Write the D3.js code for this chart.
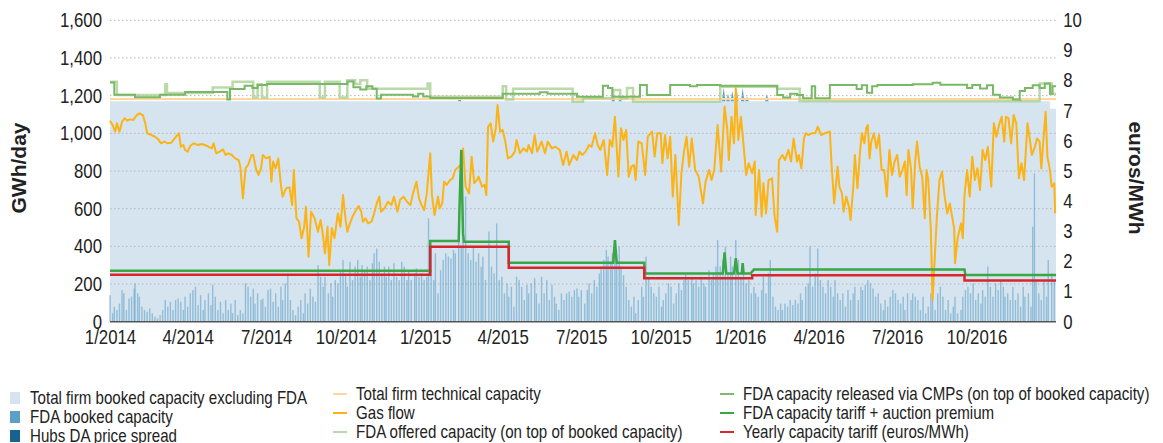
<!DOCTYPE html>
<html lang="en">
  <head>
    <meta charset="UTF-8" />
    <title>FDA capacity, gas flow and tariffs 2014-2016</title>
    <script src="https://d3js.org/d3.v7.min.js"></script>
    <style>
      body {
        margin: 0;
        background: #fff;
      }
      svg {
        display: block;
        font-family: "Liberation Sans", Arial, sans-serif;
      }
      .tick text {
        font-size: 20px;
        fill: #222;
      }
      .grid line {
        stroke: #b4b4b4;
        stroke-dasharray: 1.5, 2.5;
      }
      .legend text {
        font-size: 18px;
        fill: #222;
      }
    </style>
  </head>
  <body>
    <svg width="1163" height="443"></svg>
    <script>
      // days are counted from 1 Jan 2014
      const xTickLabels = ["1/2014", "4/2014", "7/2014", "10/2014", "1/2015", "4/2015",
        "7/2015", "10/2015", "1/2016", "4/2016", "7/2016", "10/2016"];
      const leftTicks = [0, 200, 400, 600, 800, 1000, 1200, 1400, 1600];
      const rightTicks = [0, 1, 2, 3, 4, 5, 6, 7, 8, 9, 10];

      // GWh/day
      const bookedExclFda = [[0, 1170], [1088, 1170], [1089, 1130], [1096, 1130]];
      const technicalCapacity = [[0, 1182], [1096, 1182]];
      const fdaBooked = [[405, 20], [583, 20], [591, 15], [711, 75], [716, 40], [721, 55],
        [726, 65], [733, 70], [738, 25], [761, 40], [1055, 20]];

      const fdaOffered = [[0, 1274], [8, 1203], [64, 1260], [66, 1214], [119, 1243], [142, 1274],
        [166, 1190], [171, 1260], [176, 1190], [182, 1274], [243, 1190], [249, 1274], [266, 1190],
        [275, 1282], [284, 1262], [290, 1282], [298, 1237], [368, 1265], [371, 1194], [455, 1250],
        [459, 1180], [467, 1237], [536, 1168], [548, 1186], [583, 1230], [591, 1186], [599, 1240],
        [606, 1168], [707, 1247], [773, 1237], [799, 1170], [1077, 1265], [1091, 1210], [1096, 1210]];

      const fdaCmp = [[0, 1270], [5, 1205], [29, 1192], [58, 1205], [87, 1220], [136, 1180],
        [139, 1235], [156, 1252], [165, 1240], [171, 1257], [182, 1262], [275, 1275], [282, 1245],
        [290, 1232], [297, 1250], [304, 1236], [309, 1185], [314, 1205], [351, 1195], [357, 1210],
        [363, 1195], [371, 1187], [455, 1210], [498, 1218], [507, 1210], [541, 1194], [571, 1253],
        [577, 1240], [582, 1194], [614, 1256], [622, 1203], [649, 1256], [672, 1250], [680, 1256],
        [707, 1252], [773, 1203], [780, 1190], [788, 1210], [796, 1203], [803, 1186], [813, 1250],
        [817, 1186], [834, 1257], [865, 1235], [871, 1255], [877, 1215], [883, 1250], [889, 1257],
        [930, 1260], [953, 1268], [962, 1258], [993, 1240], [999, 1257], [1008, 1238], [1016, 1255],
        [1023, 1205], [1031, 1190], [1046, 1180], [1054, 1225], [1060, 1240], [1069, 1255],
        [1077, 1240], [1083, 1265], [1089, 1210], [1092, 1250], [1096, 1250]];

      const gasFlow = [[0, 1067], [3, 1044], [6, 1009], [8, 1053], [11, 1009], [14, 1062], [17, 1080],
        [20, 1067], [23, 1074], [27, 1071], [31, 1097], [34, 1106], [38, 1097], [41, 1053], [43, 1000],
        [48, 991], [52, 982], [56, 968], [59, 947], [63, 956], [67, 947], [71, 950], [75, 973], [78, 991],
        [80, 1000], [82, 929], [85, 938], [87, 912], [90, 903], [93, 933], [97, 947], [102, 938],
        [106, 943], [110, 938], [114, 929], [118, 920], [120, 947], [123, 894], [127, 903], [131, 915],
        [134, 885], [137, 894], [141, 885], [145, 867], [149, 858], [151, 823], [154, 655], [157, 814],
        [160, 832], [164, 885], [166, 885], [169, 814], [172, 779], [175, 814], [177, 885], [181, 867],
        [185, 876], [187, 743], [189, 850], [192, 814], [195, 867], [198, 726], [200, 664], [204, 708],
        [208, 713], [211, 619], [213, 805], [216, 549], [219, 531], [222, 443], [225, 504], [227, 610],
        [230, 345], [233, 584], [237, 549], [241, 478], [244, 540], [247, 451], [249, 363], [252, 504],
        [254, 301], [257, 496], [260, 443], [264, 575], [267, 504], [270, 672], [273, 540],
        [275, 478], [278, 522], [281, 558], [284, 584], [288, 614], [291, 584], [293, 531], [296, 549],
        [299, 522], [303, 531], [306, 575], [309, 628], [312, 664], [314, 584], [318, 602], [322, 637],
        [326, 619], [329, 664], [333, 584], [336, 646], [340, 664], [344, 637], [348, 619], [351, 681],
        [355, 743], [358, 655], [361, 619], [364, 593], [367, 681], [371, 894], [373, 672], [376, 566],
        [380, 664], [382, 602], [385, 628], [387, 743], [390, 726], [394, 752], [397, 761], [400, 805],
        [404, 823], [407, 832], [409, 920], [412, 717], [416, 681], [419, 876], [422, 735], [425, 752],
        [427, 770], [431, 717], [434, 726], [436, 672], [438, 1035], [441, 1053], [444, 956], [447, 1027],
        [449, 1150], [452, 1009], [455, 1018], [458, 956], [461, 867], [465, 876], [469, 903], [471, 965],
        [475, 894], [479, 920], [483, 903], [485, 938], [489, 894], [492, 991], [495, 903], [500, 956],
        [504, 894], [507, 956], [512, 920], [516, 929], [521, 912], [525, 832], [529, 903], [532, 832],
        [537, 885], [541, 858], [544, 903],
        [547, 885], [551, 903], [555, 938], [558, 929], [562, 1000], [565, 938], [568, 912], [572, 965],
        [576, 779], [579, 965], [582, 929], [585, 1088], [589, 770], [592, 1027], [595, 965], [598, 1018],
        [601, 770], [604, 823], [607, 832], [609, 752], [612, 956], [616, 947], [620, 779], [623, 982],
        [628, 1009], [631, 876], [634, 1000], [638, 1000], [640, 841], [643, 991], [646, 867], [649, 982],
        [652, 664], [655, 885], [659, 513], [662, 788], [665, 903], [668, 982], [671, 823], [674, 973],
        [678, 805], [682, 770], [687, 628], [690, 743], [694, 805], [697, 752], [700, 805], [704, 1044],
        [708, 797], [712, 1142], [715, 1027], [717, 858], [720, 1088], [723, 947], [725, 1240], [728, 965],
        [731, 1088], [734, 938], [737, 779], [740, 841], [744, 788], [747, 850], [748, 566], [752, 805],
        [755, 558], [757, 735], [760, 575], [763, 752], [767, 761], [770, 558], [773, 478], [775, 858],
        [779, 885], [782, 858], [786, 912], [789, 850], [792, 973], [796, 850], [798, 885], [801, 814],
        [804, 973], [806, 1000], [809, 991], [813, 1000], [817, 1000], [820, 1035],
        [824, 991], [828, 1000], [834, 1009], [836, 832], [838, 699], [839, 628], [843, 823], [845, 717],
        [848, 681], [850, 584], [853, 664], [856, 611], [858, 540], [861, 708], [863, 885], [866, 708],
        [869, 903], [871, 1000], [874, 947], [876, 1027], [878, 1044], [880, 867], [882, 956], [885, 1000],
        [888, 920], [891, 991], [894, 805], [897, 805], [900, 664], [903, 912], [906, 779], [909, 850],
        [912, 885], [915, 770], [918, 805], [921, 850], [923, 672], [925, 912], [928, 814], [930, 602],
        [933, 858], [935, 956], [938, 823], [941, 770], [944, 549], [946, 805], [948, 752], [951, 487],
        [953, 115], [955, 292], [958, 558], [961, 752], [964, 797], [967, 664], [970, 575], [973, 628],
        [975, 575], [978, 496], [979, 310], [982, 443], [986, 522], [988, 443], [990, 672], [993, 805],
        [996, 664], [999, 876], [1002, 752], [1005, 814], [1008, 699], [1011, 912], [1014, 858],
        [1017, 929], [1021, 717], [1024, 1053], [1027, 982], [1030, 1044], [1033, 1088], [1036, 956],
        [1038, 1088], [1041, 1080], [1044, 947], [1047, 1097], [1050, 1053], [1053, 761], [1056, 841],
        [1059, 752], [1063, 1053], [1065, 991], [1068, 885], [1071, 920], [1074, 973], [1077, 956],
        [1079, 814], [1082, 1000], [1084, 1115], [1086, 876], [1089, 805], [1091, 717], [1094, 735],
        [1095, 575]];

      // euros/MWh
      const fdaTariffPremium = [[0, 1.69], [371, 1.69], [371, 2.68], [404, 2.68], [405, 3.87], [407, 5.70],
        [409, 2.93], [410, 2.65], [462, 2.65], [462, 1.96], [583, 1.96], [585, 2.71], [587, 1.96],
        [619, 1.96], [619, 1.6], [710, 1.6], [712, 2.3], [714, 1.6], [723, 1.6], [725, 2.11], [727, 1.6],
        [732, 1.6], [733, 1.94], [734, 1.6], [742, 1.6], [746, 1.73], [990, 1.73], [991, 1.55],
        [1096, 1.55]];
      const yearlyTariff = [[0, 1.56], [371, 2.49], [462, 1.79], [619, 1.44], [744, 1.54],
        [990, 1.37], [1096, 1.37]];

      const priceSpread = [[0, 0.88], [3, 0.28], [5, 0.5], [8, 0.39], [11, 0.6], [14, 1.05], [16, 0.94],
        [19, 0.39], [22, 0.77], [25, 0.83], [28, 1.1], [29, 1.27], [32, 0.94], [34, 0.83], [37, 0.5],
        [40, 0.39], [43, 0.33], [46, 0.44], [49, 0.28], [52, 0.17], [55, 0.11], [58, 0.22], [61, 0.39],
        [64, 0.72], [67, 0.5], [70, 0.66], [73, 0.39], [76, 0.72], [79, 0.77], [82, 0.66], [85, 0.39],
        [87, 0.83], [90, 0.5], [93, 0.94], [96, 1.05], [99, 1.16], [102, 0.55], [105, 0.88], [108, 0.39],
        [110, 0.72], [114, 0.94], [117, 0.55], [119, 1.22], [122, 0.83], [125, 0.39], [128, 0.66],
        [131, 0.28], [134, 0.72], [137, 0.39], [140, 0.6], [142, 0.28], [145, 0.72], [148, 0.22],
        [151, 0.39], [154, 0.28], [157, 1.27], [160, 1.16], [163, 0.83], [166, 1.1], [168, 0.6],
        [171, 0.94], [175, 0.72], [177, 0.77], [180, 0.5], [183, 1.05], [186, 1.1], [189, 0.66],
        [192, 0.94], [195, 0.5], [198, 1.16], [200, 0.72], [203, 1.27], [206, 1.6], [209, 0.72],
        [212, 0.39], [215, 0.22], [218, 0.5], [221, 0.72], [224, 0.28], [226, 0.94], [229, 0.6],
        [232, 1.1], [235, 0.83], [238, 0.66], [241, 1.88], [244, 1.49], [247, 1.16], [249, 1.49],
        [253, 0.94], [256, 1.27], [258, 0.83], [261, 1.38], [264, 1.27], [267, 1.71], [270, 2.05],
        [273, 1.6], [275, 1.16], [278, 1.99], [281, 1.38], [284, 1.83], [287, 2.05], [290, 1.49],
        [292, 1.88], [295, 1.71], [298, 1.83], [301, 1.38], [304, 1.94], [306, 2.27], [309, 2.43],
        [312, 1.99], [315, 1.6], [318, 1.83], [320, 1.49], [323, 1.83], [326, 1.38], [329, 1.94],
        [332, 1.49], [335, 1.38], [338, 1.99], [341, 1.83], [344, 1.38], [346, 1.71], [349, 1.38],
        [353, 1.6], [355, 1.77], [358, 1.49], [361, 1.6], [364, 1.38], [367, 1.49], [369, 3.43],
        [372, 1.71], [375, 1.38], [377, 2.27], [380, 0.94], [383, 1.71], [386, 2.05], [389, 2.27],
        [392, 2.16], [395, 2.1], [398, 2.38], [400, 2.27], [404, 2.71], [407, 2.49], [409, 2.93],
        [412, 4.15], [415, 2.27], [418, 2.05], [421, 2.49], [424, 1.99], [427, 2.27], [430, 1.83],
        [432, 2.16], [435, 1.38], [439, 2.99], [442, 1.83], [445, 1.6], [448, 3.26], [451, 1.38],
        [454, 1.49], [457, 0.94], [460, 1.27], [462, 0.83], [465, 1.16], [468, 0.5], [471, 1.49],
        [474, 1.38], [477, 1.16], [480, 0.72], [483, 1.22], [485, 0.94], [488, 1.27], [492, 1.44],
        [494, 0.94], [497, 0.6], [500, 1.49], [503, 0.94], [506, 1.38], [509, 0.72], [512, 1.22],
        [515, 0.83], [517, 0.6], [520, 0.39], [523, 0.94], [526, 0.72], [529, 0.94], [532, 1.0],
        [535, 0.83], [538, 1.05], [541, 1.1], [543, 0.83], [546, 1.05],
        [550, 0.6], [553, 1.05], [555, 1.27], [558, 0.94], [561, 1.38], [564, 1.16], [567, 1.6],
        [569, 1.83], [572, 2.05], [575, 2.38], [577, 2.16], [580, 1.99], [582, 2.27], [585, 2.49],
        [587, 2.05], [590, 2.49], [592, 1.83], [595, 1.55], [598, 1.16], [601, 0.72], [604, 0.5],
        [607, 0.83], [609, 0.28], [612, 0.72], [616, 1.16], [618, 0.83], [621, 2.16], [624, 1.49],
        [627, 1.16], [630, 0.94], [633, 0.83], [636, 1.16], [639, 0.5], [641, 0.72], [644, 0.94],
        [647, 1.27], [650, 1.16], [653, 0.6], [656, 0.94], [659, 1.27], [662, 1.05], [665, 1.38],
        [667, 1.55], [670, 1.38], [674, 1.49], [676, 1.27], [679, 1.38], [682, 1.16], [685, 1.49],
        [688, 1.27], [690, 1.16], [694, 1.71], [697, 1.38], [699, 1.6], [702, 1.83], [704, 2.71],
        [707, 1.83], [710, 2.05], [713, 2.49], [716, 1.6], [719, 2.16], [721, 1.83], [725, 2.71],
        [728, 2.05], [731, 1.49], [734, 1.71], [737, 1.27], [740, 1.38], [743, 0.94], [746, 1.16],
        [748, 0.94], [751, 0.83], [755, 1.05], [757, 1.49], [760, 0.94], [763, 1.6], [765, 2.05],
        [768, 0.83], [771, 0.5], [774, 0.39], [777, 0.6], [779, 0.39], [782, 0.6], [785, 0.5],
        [788, 0.72], [791, 0.55], [794, 0.72], [797, 0.6], [800, 0.94], [802, 0.72], [806, 1.16],
        [809, 1.27], [811, 2.49], [814, 1.16], [817, 1.6], [820, 2.43], [823, 1.38], [826, 1.16],
        [829, 0.94], [832, 1.38], [835, 1.16], [838, 0.83], [840, 1.38], [843, 0.94], [846, 0.72],
        [849, 0.94], [852, 0.5], [855, 1.05], [858, 0.72], [861, 0.94], [863, 1.16], [867, 0.72],
        [870, 1.16], [872, 1.05], [875, 1.22], [878, 1.38], [881, 1.27], [884, 1.1], [887, 0.83],
        [890, 0.94], [893, 0.6], [896, 0.39], [898, 0.72], [901, 0.5], [904, 0.83], [907, 1.05],
        [910, 0.94], [913, 0.72], [916, 0.6], [919, 0.83], [921, 0.39], [924, 0.94], [928, 0.72],
        [930, 0.94], [933, 0.83], [936, 0.72], [939, 0.39], [942, 0.83], [945, 0.28], [948, 0.5],
        [951, 0.94], [953, 0.72], [956, 0.39], [959, 0.94], [962, 1.16], [965, 0.83], [968, 0.39],
        [971, 0.72], [974, 0.28], [977, 0.5], [979, 0.83], [982, 0.28], [986, 0.39], [988, 0.83],
        [991, 1.05], [994, 1.16], [997, 0.94], [1000, 1.27], [1003, 0.72], [1006, 0.94], [1009, 0.6],
        [1011, 1.05], [1014, 0.83], [1017, 1.83], [1020, 1.16], [1023, 0.83], [1026, 1.27],
        [1029, 1.05], [1032, 1.38], [1035, 1.16], [1037, 0.83], [1040, 0.94], [1043, 0.72],
        [1046, 1.16], [1049, 0.72], [1052, 0.94], [1055, 0.5], [1058, 1.16], [1060, 0.83],
        [1064, 0.94], [1067, 0.5], [1069, 3.15], [1071, 4.92], [1073, 1.38], [1076, 0.94],
        [1079, 0.72], [1082, 1.38], [1085, 0.83], [1087, 2.05], [1091, 1.6], [1094, 1.38]];

      const legendCol1 = [
        { label: "Total firm booked capacity excluding FDA", color: "#d6e4ef" },
        { label: "FDA booked capacity", color: "#5d9fc6" },
        { label: "Hubs DA price spread", color: "#17628f" },
      ];
      const legendCol2 = [
        { label: "Total firm technical capacity", color: "#fdd79c" },
        { label: "Gas flow", color: "#fbb316" },
        { label: "FDA offered capacity (on top of booked capacity)", color: "#b9daa6" },
      ];
      const legendCol3 = [
        { label: "FDA capacity released via CMPs (on top of booked capacity)", color: "#7fbb6d" },
        { label: "FDA capacity tariff + auction premium", color: "#3aa645" },
        { label: "Yearly capacity tariff (euros/MWh)", color: "#d7262c" },
      ];

      const start = new Date(2014, 0, 1);
      const toDate = (d) => d3.timeDay.offset(start, d);
      const parseTick = d3.timeParse("%m/%Y");

      // the original uses a condensed face; squeeze the installed sans instead
      const narrow = "scale(0.84,1)";

      const plotLeft = 110,
        plotRight = 1056,
        plotTop = 20.3,
        plotBottom = 321.7;

      const svg = d3.select("svg");

      const x = d3
        .scaleTime()
        .domain([start, new Date(2017, 0, 1)])
        .range([plotLeft, plotRight]);
      const y = d3.scaleLinear().domain([0, 1600]).range([plotBottom, plotTop]);
      const y2 = d3.scaleLinear().domain([0, 10]).range([plotBottom, plotTop]);

      // booked capacity area
      svg
        .append("path")
        .datum(bookedExclFda)
        .attr("fill", "#d6e4ef")
        .attr(
          "d",
          d3
            .area()
            .curve(d3.curveStepAfter)
            .x((d) => x(toDate(d[0])))
            .y0(y(0))
            .y1((d) => y(d[1]))
        );

      // FDA booked capacity sitting on top of the booked area
      const spikes = svg.append("g").attr("fill", "#5d9fc6");
      fdaBooked.forEach((d) => {
        spikes
          .append("path")
          .datum([
            [d[0] - 2, 0],
            [d[0], d[1]],
            [d[0] + 2, 0],
          ])
          .attr(
            "d",
            d3
              .area()
              .x((p) => x(toDate(p[0])))
              .y0(y(1170))
              .y1((p) => y(1170 + p[1]))
          );
      });

      // dotted grid
      svg
        .append("g")
        .attr("class", "grid")
        .selectAll("line")
        .data(leftTicks.slice(1))
        .join("line")
        .attr("x1", plotLeft)
        .attr("x2", plotRight)
        .attr("y1", (d) => y(d))
        .attr("y2", (d) => y(d));

      // Hubs DA price spread bars (right axis)
      svg
        .append("g")
        .selectAll("rect")
        .data(priceSpread)
        .join("rect")
        .attr("x", (d) => x(toDate(d[0])) - 0.7)
        .attr("width", 1.4)
        .attr("y", (d) => y2(d[1]))
        .attr("height", (d) => y2(0) - y2(d[1]))
        .attr("fill", "#5a9cc5")
        .attr("opacity", 0.55);

      const stepLine = (scale) =>
        d3
          .line()
          .curve(d3.curveStepAfter)
          .x((d) => x(toDate(d[0])))
          .y((d) => scale(d[1]));

      const plainLine = (scale) =>
        d3
          .line()
          .x((d) => x(toDate(d[0])))
          .y((d) => scale(d[1]));

      svg
        .append("path")
        .datum(technicalCapacity)
        .attr("fill", "none")
        .attr("stroke", "#fdd79c")
        .attr("stroke-width", 2)
        .attr("d", plainLine(y));

      svg
        .append("path")
        .datum(fdaOffered)
        .attr("fill", "none")
        .attr("stroke", "#a9d193")
        .attr("stroke-opacity", 0.8)
        .attr("stroke-width", 2.5)
        .attr("d", stepLine(y));

      svg
        .append("path")
        .datum(fdaCmp)
        .attr("fill", "none")
        .attr("stroke", "#78b866")
        .attr("stroke-width", 2)
        .attr("d", stepLine(y));

      svg
        .append("path")
        .datum(gasFlow)
        .attr("fill", "none")
        .attr("stroke", "#fbb316")
        .attr("stroke-width", 2)
        .attr("stroke-linejoin", "round")
        .attr("d", plainLine(y));

      svg
        .append("path")
        .datum(fdaTariffPremium)
        .attr("fill", "none")
        .attr("stroke", "#3aa645")
        .attr("stroke-width", 2.5)
        .attr("d", plainLine(y2));

      svg
        .append("path")
        .datum(yearlyTariff)
        .attr("fill", "none")
        .attr("stroke", "#d7262c")
        .attr("stroke-width", 2.5)
        .attr("d", stepLine(y2));

      // baseline
      svg
        .append("line")
        .attr("x1", plotLeft)
        .attr("x2", plotRight)
        .attr("y1", y(0))
        .attr("y2", y(0))
        .attr("stroke", "#555")
        .attr("stroke-width", 1.5);

      // axes
      const xAxis = svg
        .append("g")
        .attr("transform", `translate(0,${plotBottom})`)
        .call(
          d3
            .axisBottom(x)
            .tickValues(xTickLabels.map(parseTick))
            .tickFormat((d, i) => xTickLabels[i])
            .tickSize(0)
            .tickPadding(8)
        );
      xAxis.select(".domain").remove();
      xAxis.selectAll("text").attr("transform", narrow);

      const yAxis = svg
        .append("g")
        .attr("transform", `translate(${plotLeft},0)`)
        .call(
          d3
            .axisLeft(y)
            .tickValues(leftTicks)
            .tickFormat(d3.format(","))
            .tickSize(0)
            .tickPadding(9.5)
        );
      yAxis.select(".domain").remove();
      yAxis.selectAll("text").attr("transform", narrow);

      const y2Axis = svg
        .append("g")
        .attr("transform", `translate(${plotRight},0)`)
        .call(d3.axisRight(y2).tickValues(rightTicks).tickSize(0).tickPadding(8.5));
      y2Axis.select(".domain").remove();
      y2Axis.selectAll("text").attr("transform", narrow);

      svg
        .append("text")
        .attr("transform", "translate(26,168) rotate(-90)")
        .attr("text-anchor", "middle")
        .attr("font-size", 21)
        .attr("font-weight", "bold")
        .attr("fill", "#222")
        .text("GWh/day");

      svg
        .append("text")
        .attr("transform", "translate(1129,178) rotate(90)")
        .attr("text-anchor", "middle")
        .attr("font-size", 21)
        .attr("font-weight", "bold")
        .attr("fill", "#222")
        .text("euros/MWh");

      // legend
      const legend = svg.append("g").attr("class", "legend");

      const addLabel = (g, dx, label) =>
        g
          .append("g")
          .attr("transform", `translate(${dx},0)`)
          .append("text")
          .attr("transform", narrow)
          .attr("dy", "0.35em")
          .text(label);

      legendCol1.forEach((d, i) => {
        const g = legend.append("g").attr("transform", `translate(10,${398 + i * 19})`);
        g.append("rect").attr("y", -6).attr("width", 10).attr("height", 12).attr("fill", d.color);
        addLabel(g, 20, d.label);
      });

      legendCol2.forEach((d, i) => {
        const g = legend.append("g").attr("transform", `translate(333,${394 + i * 19})`);
        g.append("line").attr("x2", 14).attr("stroke", d.color).attr("stroke-width", 2);
        addLabel(g, 23, d.label);
      });

      legendCol3.forEach((d, i) => {
        const g = legend.append("g").attr("transform", `translate(720,${394 + i * 19})`);
        g.append("line").attr("x2", 14).attr("stroke", d.color).attr("stroke-width", 2);
        addLabel(g, 23, d.label);
      });
    </script>
  </body>
</html>
